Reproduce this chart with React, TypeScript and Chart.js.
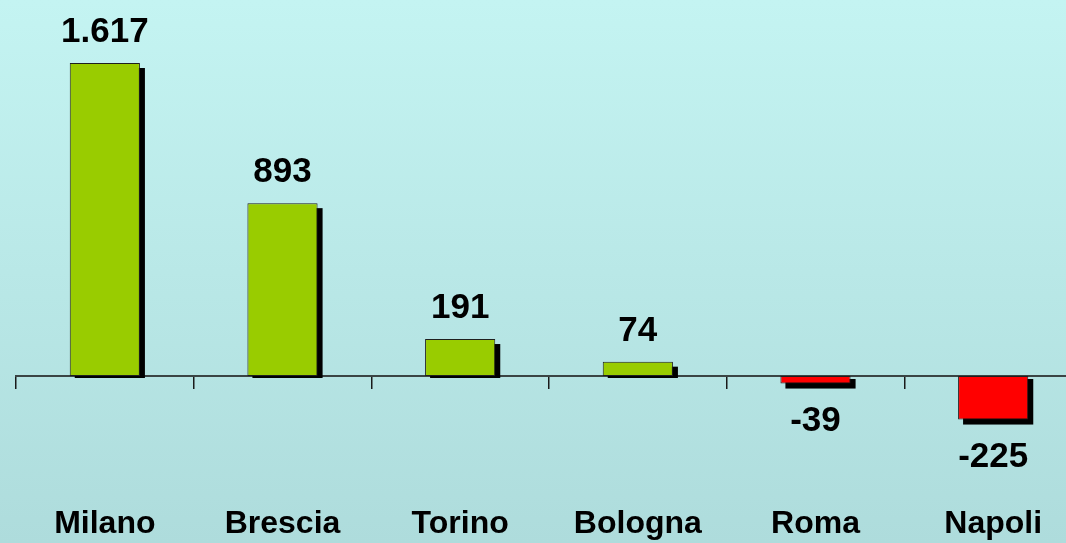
import { useEffect, useRef } from "react";
import { Chart, registerables } from "chart.js";

Chart.register(...registerables);

const categories = ["Milano", "Brescia", "Torino", "Bologna", "Roma", "Napoli"];
const values = [1617, 893, 191, 74, -39, -225];
const barColors = ["#99cc00", "#99cc00", "#99cc00", "#99cc00", "#ff0000", "#ff0000"];
const yMin = -645.8;
const yMax = 1942.5;

const FONT = "Arial, 'Liberation Sans', Helvetica, sans-serif";

function fmt(v: number): string {
  const s = Math.abs(v).toString().replace(/\B(?=(\d{3})+(?!\d))/g, ".");
  return (v < 0 ? "-" : "") + s;
}

const shadowPlugin = {
  id: "barShadow",
  beforeDatasetDraw(chart: any, args: any) {
    const ctx = chart.ctx;
    ctx.save();
    ctx.fillStyle = "#000000";
    args.meta.data.forEach((el: any) => {
      const p = el.getProps(["x", "y", "base", "width"], true);
      const left = p.x - p.width / 2 + 5;
      if (p.y <= p.base) {
        const top = p.y + 5;
        const bottom = p.base + 2;
        ctx.fillRect(left, top, p.width, bottom - top);
      } else {
        const top = p.base + 3;
        const bottom = p.y + 5;
        ctx.fillRect(left, top, p.width, bottom - top);
      }
    });
    ctx.restore();
  },
};

const valueLabelPlugin = {
  id: "valueLabels",
  afterDatasetsDraw(chart: any) {
    const ctx = chart.ctx;
    const meta = chart.getDatasetMeta(0);
    ctx.save();
    ctx.fillStyle = "#000000";
    ctx.font = `bold 35px ${FONT}`;
    ctx.textAlign = "center";
    ctx.textBaseline = "alphabetic";
    meta.data.forEach((el: any, i: number) => {
      const p = el.getProps(["x", "y"], true);
      const v = values[i];
      const y = v >= 0 ? p.y - 21 : p.y + 47;
      ctx.fillText(fmt(v), p.x, y);
    });
    ctx.restore();
  },
};

export default function App() {
  const ref = useRef<HTMLCanvasElement | null>(null);

  useEffect(() => {
    if (!ref.current) return;
    const chart = new Chart(ref.current, {
      type: "bar",
      data: {
        labels: categories,
        datasets: [
          {
            data: values,
            xAxisID: "x",
            yAxisID: "y",
            backgroundColor: barColors,
            borderColor: "#1f1f1f",
            borderWidth: 1,
            borderSkipped: false,
            barPercentage: 0.395,
            categoryPercentage: 1,
          },
        ],
      },
      options: {
        responsive: false,
        animation: false,
        devicePixelRatio: 1,
        layout: { padding: { left: 16, right: 0, top: 0, bottom: 0 } },
        plugins: {
          legend: { display: false },
          tooltip: { enabled: false },
        },
        scales: {
          y: {
            display: false,
            min: yMin,
            max: yMax,
          },
          x: {
            type: "category",
            position: "bottom",
            offset: true,
            afterFit: (scale: any) => {
              scale.height = 42;
            },
            grid: { display: false, drawTicks: false },
            border: { display: false },
            ticks: {
              color: "#000000",
              padding: 4,
              font: { family: FONT, size: 32, weight: "bold", lineHeight: 1.2 },
              maxRotation: 0,
              autoSkip: false,
            },
          },
          x2: {
            type: "category",
            position: { y: 0 } as any,
            offset: true,
            afterFit: (scale: any) => {
              scale.height = 0;
            },
            grid: {
              display: true,
              drawOnChartArea: false,
              drawTicks: true,
              tickLength: 12,
              offset: true,
              color: "#1a1a1a",
              lineWidth: 1.5,
            },
            border: { display: true, color: "#3a4444", width: 2 },
            ticks: { display: false },
          },
        },
      },
      plugins: [shadowPlugin, valueLabelPlugin],
    });
    return () => chart.destroy();
  }, []);

  return (
    <div
      style={{
        position: "fixed",
        left: 0,
        top: 0,
        width: 1066,
        height: 543,
        overflow: "hidden",
        background: "linear-gradient(to bottom, #c4f4f2 0%, #aedcdc 100%)",
      }}
    >
      <canvas ref={ref} width={1082} height={543} style={{ display: "block" }} />
    </div>
  );
}
